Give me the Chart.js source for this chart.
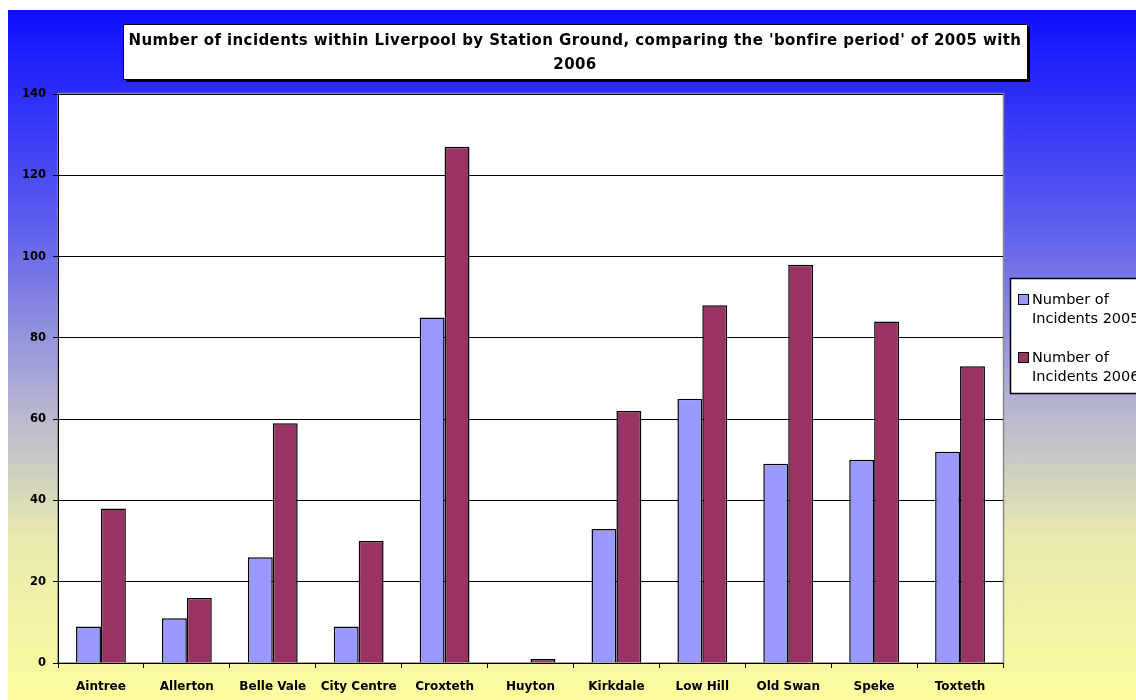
<!DOCTYPE html>
<html>
<head>
<meta charset="utf-8">
<script src="https://cdn.jsdelivr.net/npm/chart.js@4.4.1/dist/chart.umd.min.js"></script>
<style>
  html, body { margin: 0; padding: 0; background: #ffffff; overflow: hidden; }
  #bg { position: absolute; left: 8px; top: 10px; width: 1128px; height: 690px;
        background: linear-gradient(to bottom, #0f0fff 0%, #5a5af0 30%, #b0b0d4 56%, #e8e8b0 76%, #fefc9e 100%); }
  #wrap { position: absolute; left: 0; top: 0; width: 1136px; height: 700px; }
</style>
</head>
<body>
<div id="bg"></div>
<div id="wrap"><canvas id="c" width="1136" height="700"></canvas></div>
<script>
const categories = ['Aintree', 'Allerton', 'Belle Vale', 'City Centre', 'Croxteth', 'Huyton', 'Kirkdale', 'Low Hill', 'Old Swan', 'Speke', 'Toxteth'];
const incidents2005 = [9, 11, 26, 9, 85, 0, 33, 65, 49, 50, 52];
const incidents2006 = [38, 16, 59, 30, 127, 1, 62, 88, 98, 84, 73];
const seriesNames = ['Number of Incidents 2005', 'Number of Incidents 2006'];
const titleLines = ["Number of incidents within Liverpool by Station Ground, comparing the 'bonfire period' of 2005 with", '2006'];
const yTicks = [0, 20, 40, 60, 80, 100, 120, 140];

const decor = {
  id: 'decor',
  beforeDraw(chart) {
    const ctx = chart.ctx;
    const a = chart.chartArea;
    ctx.save();
    // plot area
    ctx.fillStyle = '#ffffff';
    ctx.fillRect(a.left, a.top, a.right - a.left, a.bottom - a.top);
    ctx.strokeStyle = '#8a8a8a';
    ctx.lineWidth = 1.5;
    ctx.strokeRect(a.left, a.top - 0.5, a.right - a.left + 0.5, a.bottom - a.top + 0.5);
    // title box
    const bx = 123, by = 24, bw = 904, bh = 55;
    ctx.fillStyle = '#000000';
    ctx.fillRect(bx + 3, by + 3, bw, bh);
    ctx.fillStyle = '#ffffff';
    ctx.fillRect(bx, by, bw, bh);
    ctx.strokeStyle = '#000000';
    ctx.lineWidth = 1;
    ctx.strokeRect(bx + 0.5, by + 0.5, bw, bh);
    ctx.fillStyle = '#000000';
    ctx.font = 'bold 15px "DejaVu Sans"';
    if ('letterSpacing' in ctx) ctx.letterSpacing = '0.4px';
    ctx.textAlign = 'center';
    ctx.textBaseline = 'middle';
    titleLines.forEach((t, i) => ctx.fillText(t, bx + bw / 2, 41 + i * 24));
    ctx.restore();
  },
  afterDraw(chart) {
    const ctx = chart.ctx;
    ctx.save();
    // legend box
    const lx = 1010, ly = 278, lw = 200, lh = 115;
    ctx.fillStyle = '#ffffff';
    ctx.fillRect(lx, ly, lw, lh);
    ctx.strokeStyle = '#000000';
    ctx.lineWidth = 1.5;
    ctx.strokeRect(lx + 0.5, ly + 0.5, lw, lh);
    ctx.font = '14.5px "DejaVu Sans"';
    ctx.textAlign = 'left';
    ctx.textBaseline = 'middle';
    chart.data.datasets.forEach((ds, i) => {
      const y0 = 300 + i * 58;
      ctx.fillStyle = ds.backgroundColor;
      ctx.fillRect(1018.5, y0 - 5.5, 10, 10);
      ctx.strokeStyle = '#000000';
      ctx.lineWidth = 1;
      ctx.strokeRect(1018.5, y0 - 5.5, 10, 10);
      ctx.fillStyle = '#000000';
      const parts = ds.label.split(' ');
      ctx.fillText(parts.slice(0, 2).join(' '), 1032, y0);
      ctx.fillText(parts.slice(2).join(' '), 1032, y0 + 19);
    });
    ctx.restore();
  }
};

new Chart(document.getElementById('c'), {
  type: 'bar',
  data: {
    labels: categories,
    datasets: [
      { label: seriesNames[0], data: incidents2005, backgroundColor: '#9999ff', borderColor: '#000000', borderWidth: 1.5, borderSkipped: 'start' },
      { label: seriesNames[1], data: incidents2006, backgroundColor: '#993366', borderColor: '#000000', borderWidth: 1.5, borderSkipped: 'start' }
    ]
  },
  options: {
    responsive: false,
    animation: false,
    layout: { padding: { left: 0, top: 94, right: 133, bottom: 0 } },
    plugins: { legend: { display: false }, title: { display: false }, tooltip: { enabled: false } },
    datasets: { bar: { categoryPercentage: 0.58, barPercentage: 1.0 } },
    scales: {
      x: {
        afterFit: s => { s.height = 37; },
        grid: { offset: true, drawOnChartArea: false, drawTicks: true, tickLength: 5, color: '#000000' },
        border: { color: '#000000', width: 1 },
        ticks: { color: '#000000', font: { family: 'DejaVu Sans', weight: 'bold', size: 12 }, padding: 12, maxRotation: 0, autoSkip: false }
      },
      y: {
        min: 0, max: 140,
        afterFit: s => { s.width = 58; },
        afterBuildTicks: s => { s.ticks = yTicks.map(v => ({ value: v })); },
        grid: { color: '#000000', tickLength: 5, lineWidth: 1 },
        border: { color: '#000000', width: 1 },
        ticks: { color: '#000000', font: { family: 'DejaVu Sans', weight: 'bold', size: 11.5 }, padding: 7 }
      }
    }
  },
  plugins: [decor]
});
</script>
</body>
</html>
